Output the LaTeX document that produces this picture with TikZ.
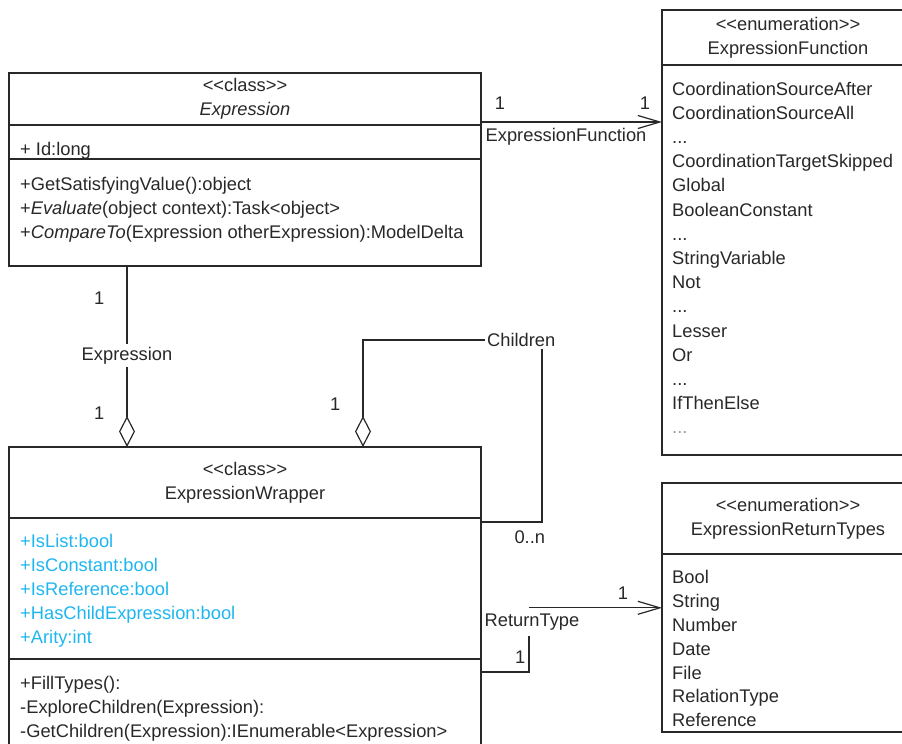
\documentclass[tikz,border=0pt]{standalone}
\usepackage{fontspec}
\setmainfont[Ligatures=TeXOff]{Liberation Sans}
\usetikzlibrary{positioning,calc,arrows.meta}
\definecolor{attrblue}{RGB}{30,182,240}
\definecolor{umlink}{RGB}{40,40,40}
\newcommand{\stereo}[1]{<\kern0pt<#1>\kern0pt>}

\begin{document}
\begin{tikzpicture}[
    x=1pt, y=-1pt,
    font=\fontsize{18.3}{24}\selectfont,
    text=umlink,
    part/.style={rectangle, draw=umlink, line width=1.2pt, inner sep=0pt, outer sep=0pt, align=center},
    members/.style={anchor=north west, align=left, inner sep=0pt},
    lbl/.style={inner sep=2pt},
    link/.style={draw=umlink, line width=1.2pt},
    assoc/.style={link, -{Straight Barb[length=22pt, width=13pt, line width=1.2pt]}},
    aggr/.style={link, {Diamond[open, length=31pt, width=16pt, line width=1.2pt]}-}
]
\useasboundingbox (0,0) rectangle (902,744);

% Expression
\node[part, anchor=north west, minimum width=472pt, minimum height=52pt] (exprHead) at (9,73) {\stereo{class}\\\textit{Expression}};
\node[part, below=0pt of exprHead, minimum width=472pt, minimum height=34pt] (exprAttr) {};
\node[part, below=0pt of exprAttr, minimum width=472pt, minimum height=107pt] (exprOps) {};
\node[members, xshift=11pt, yshift=-13pt] (exprAttrTxt) at (exprAttr.north west) {\strut+ Id:long};
\node[members, xshift=11pt, yshift=-14pt] (exprOpsTxt) at (exprOps.north west) {\strut+GetSatisfyingValue():object\\
    +\textit{Evaluate}(object context):Task<object>\\
    +\textit{CompareTo}(Expression otherExpression):ModelDelta};

% ExpressionFunction
\node[part, anchor=north west, minimum width=252pt, minimum height=55pt] (fnHead) at (662,10) {\stereo{enumeration}\\ExpressionFunction};
\node[part, below=0pt of fnHead, minimum width=252pt, minimum height=390pt] (fnBody) {};
\node[members, xshift=10pt, yshift=-13pt, font=\fontsize{18.3}{24.2}\selectfont] (fnItems) at (fnBody.north west) {\strut CoordinationSourceAfter\\
    CoordinationSourceAll\\...\\CoordinationTargetSkipped\\Global\\BooleanConstant\\...\\
    StringVariable\\Not\\...\\Lesser\\Or\\...\\IfThenElse\\\textcolor{black!40}{...}};

% ExpressionWrapper
\node[part, anchor=north west, minimum width=472pt, minimum height=71pt] (wrapHead) at (9,447) {\stereo{class}\\ExpressionWrapper};
\node[part, below=0pt of wrapHead, minimum width=472pt, minimum height=141pt] (wrapAttr) {};
\node[part, below=0pt of wrapAttr, minimum width=472pt, minimum height=100pt] (wrapOps) {};
\node[members, xshift=11pt, yshift=-12pt, text=attrblue] (wrapAttrTxt) at (wrapAttr.north west) {\strut+IsList:bool\\
    +IsConstant:bool\\+IsReference:bool\\+HasChildExpression:bool\\+Arity:int};
\node[members, xshift=11pt, yshift=-13pt] (wrapOpsTxt) at (wrapOps.north west) {\strut+FillTypes():\\
    -ExploreChildren(Expression):\\
    -GetChildren(Expression):IEnumerable<Expression>};

% ExpressionReturnTypes
\node[part, anchor=north west, minimum width=252pt, minimum height=71pt] (retHead) at (662,483) {\stereo{enumeration}\\ExpressionReturnTypes};
\node[part, below=0pt of retHead, minimum width=252pt, minimum height=178pt] (retBody) {};
\node[members, xshift=10pt, yshift=-13pt, font=\fontsize{18.3}{23.8}\selectfont] (retItems) at (retBody.north west) {\strut Bool\\
    String\\Number\\Date\\File\\RelationType\\Reference};

% Expression -> ExpressionFunction
\coordinate (fnLink) at ([yshift=3pt]exprHead.south east);
\draw[assoc] (fnLink) -- (fnLink -| fnBody.west)
    node[lbl, pos=.105, above=10pt] (fnSrc) {1}
    node[lbl, pos=.906, above=10pt] (fnDst) {1}
    node[lbl, pos=.47, below=4pt] (fnRole) {ExpressionFunction};

% ExpressionWrapper <>- Expression
\coordinate (exprDock) at ($(wrapHead.north west)!.25!(wrapHead.north east)$);
\coordinate (exprFoot) at ($(exprOps.south west)!.25!(exprOps.south east)$);
\draw[aggr] (exprDock) -- (exprFoot)
    node[lbl, pos=.503, fill=white, inner sep=3pt] (exprRole) {Expression}
    node[lbl, pos=.823, left=20pt] (exprSrc) {1}
    node[lbl, pos=.188, left=20pt] (exprDst) {1};

% ExpressionWrapper <>- children
\coordinate (kidDock) at ($(wrapHead.north west)!.75!(wrapHead.north east)$);
\node[lbl, anchor=west] (kidRole) at (485,340) {Children};
\coordinate (kidTurn) at (542,522);
\draw[aggr] (kidDock) |- (kidRole.west)
    node[lbl, pos=.199, left=20pt] (kidOne) {1};
\draw[link] (kidRole.south -| kidTurn) -- (kidTurn) -- (kidTurn -| wrapAttr.east)
    node[lbl, pos=.2, below=6pt] (kidMany) {0..n};

% ExpressionWrapper -> ExpressionReturnTypes
\node[lbl, minimum height=28pt] (rtRole) at (532,622) {ReturnType};
\coordinate (rtTurn) at (529,672);
\draw[link] (rtTurn -| wrapOps.east) -- (rtTurn) -- (rtRole.south -| rtTurn)
    node[lbl, pos=.42, left=1pt] (rtSrc) {1};
\draw[assoc] (rtRole.north -| rtTurn) -- (rtRole.north -| retBody.west)
    node[lbl, pos=.707, above=6pt] (rtDst) {1};

\end{tikzpicture}
\end{document}
